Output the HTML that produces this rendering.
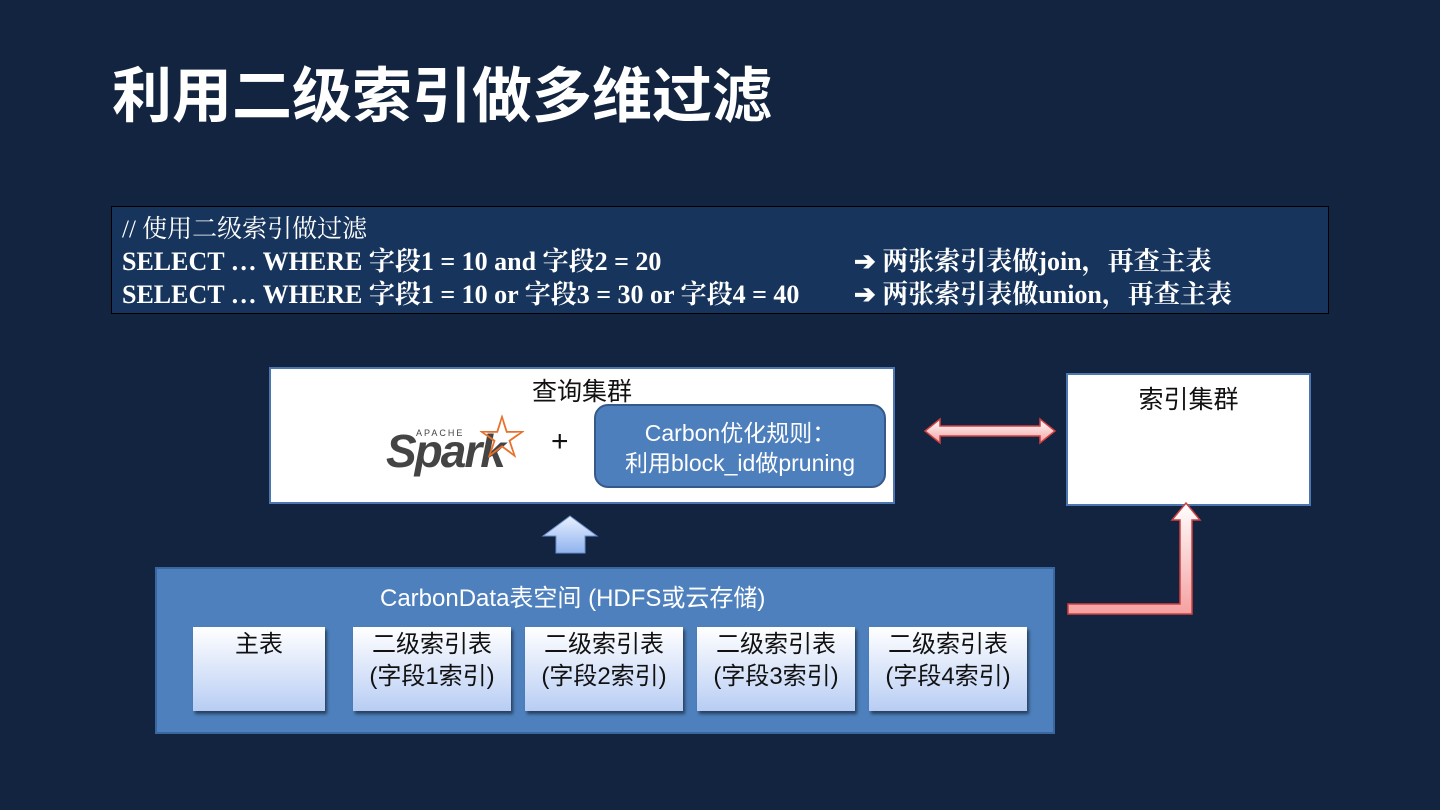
<!DOCTYPE html>
<html><head><meta charset="utf-8"><style>
body{margin:0;width:1440px;height:810px;background:#12243f;position:relative;overflow:hidden;font-family:"Liberation Sans","Noto Sans CJK SC",sans-serif}
.a{position:absolute}
.title{left:112px;top:48px;font-size:60px;font-weight:bold;color:#fff;font-family:"Liberation Sans","Noto Sans CJK SC",sans-serif}
.code{left:111px;top:206px;width:1216px;height:106px;background:#17355c;border:1px solid #000;color:#fff;font-family:"Liberation Serif","Noto Serif CJK SC",serif;font-weight:bold;font-size:26px;line-height:33px}
.sub{background:linear-gradient(#fff,#b8cdf4);box-shadow:2px 3px 3px rgba(0,0,0,.5);text-align:center;font-size:24px;line-height:32px;color:#111;padding-top:2px;box-sizing:border-box}
</style></head><body>
<div class="a title">利用二级索引做多维过滤</div>
<div class="a code">
<div class="a" style="left:10px;top:6px;font-weight:normal;font-size:25px">// 使用二级索引做过滤</div>
<div class="a" style="left:10px;top:38px;white-space:nowrap">SELECT … WHERE 字段1 = 10 and 字段2 = 20</div>
<div class="a" style="left:10px;top:71px;white-space:nowrap">SELECT … WHERE 字段1 = 10 or 字段3 = 30 or 字段4 = 40</div>
<div class="a" style="left:742px;top:38px;white-space:nowrap">➔ 两张索引表做join，再查主表</div>
<div class="a" style="left:742px;top:71px;white-space:nowrap">➔ 两张索引表做union，再查主表</div>
</div>
<div class="a" style="left:269px;top:367px;width:626px;height:137px;background:#fff;border:2px solid #4b76b0;box-sizing:border-box"></div>
<div class="a" style="left:269px;top:372px;width:626px;text-align:center;font-size:25px;color:#111">查询集群</div>
<div class="a" style="left:386px;top:424px;font-size:46px;font-weight:bold;color:#444;font-style:italic;letter-spacing:-2px">Spark</div>
<div class="a" style="left:416px;top:428px;font-size:9px;color:#444;letter-spacing:2px">APACHE</div>
<div class="a" style="left:478px;top:398px;font-size:48px;color:#e8702a">☆</div>
<div class="a" style="left:551px;top:425px;font-size:30px;color:#111">+</div>
<div class="a" style="left:594px;top:404px;width:292px;height:84px;background:#4e7fbd;border:2px solid #36598a;border-radius:14px;box-sizing:border-box;color:#fff;text-align:center;font-size:23px;line-height:30px;padding-top:12px">Carbon优化规则：<br>利用block_id做pruning</div>
<div class="a" style="left:1066px;top:373px;width:245px;height:133px;background:#fff;border:2px solid #4b76b0;box-sizing:border-box;text-align:center;font-size:25px;color:#111;padding-top:5px">索引集群</div>
<div class="a" style="left:155px;top:567px;width:900px;height:167px;background:#4e80bd;border:2px solid #3a67a0;box-sizing:border-box"></div>
<div class="a" style="left:380px;top:578px;font-size:24px;color:#fff;white-space:nowrap">CarbonData表空间 (HDFS或云存储)</div>
<div class="a sub" style="left:193px;top:627px;width:132px;height:84px">主表</div>
<div class="a sub" style="left:353px;top:627px;width:158px;height:84px">二级索引表<br>(字段1索引)</div>
<div class="a sub" style="left:525px;top:627px;width:158px;height:84px">二级索引表<br>(字段2索引)</div>
<div class="a sub" style="left:697px;top:627px;width:158px;height:84px">二级索引表<br>(字段3索引)</div>
<div class="a sub" style="left:869px;top:627px;width:158px;height:84px">二级索引表<br>(字段4索引)</div>
<svg class="a" style="left:0;top:0" width="1440" height="810">
<defs>
<linearGradient id="b" x1="0" y1="0" x2="0" y2="1"><stop offset="0" stop-color="#e8f0ff"/><stop offset="1" stop-color="#8fb3ee"/></linearGradient>
<linearGradient id="p" x1="0" y1="0" x2="0" y2="1"><stop offset="0" stop-color="#fff"/><stop offset="1" stop-color="#f5a0a0"/></linearGradient>
</defs>
<polygon points="570,516 597,536 585,536 585,553 556,553 556,536 543,536" fill="url(#b)" stroke="#6b8fc8" stroke-width="1"/>
<polygon points="925,431 940,419 940,426 1040,426 1040,419 1055,431 1040,443 1040,436 940,436 940,443" fill="url(#p)" stroke="#d04040" stroke-width="1.5"/>
<polygon points="1068,604 1180,604 1180,520 1172,520 1186,503 1200,520 1192,520 1192,614 1068,614" fill="url(#p)" stroke="#d04040" stroke-width="1.5"/>
</svg>
</body></html>
